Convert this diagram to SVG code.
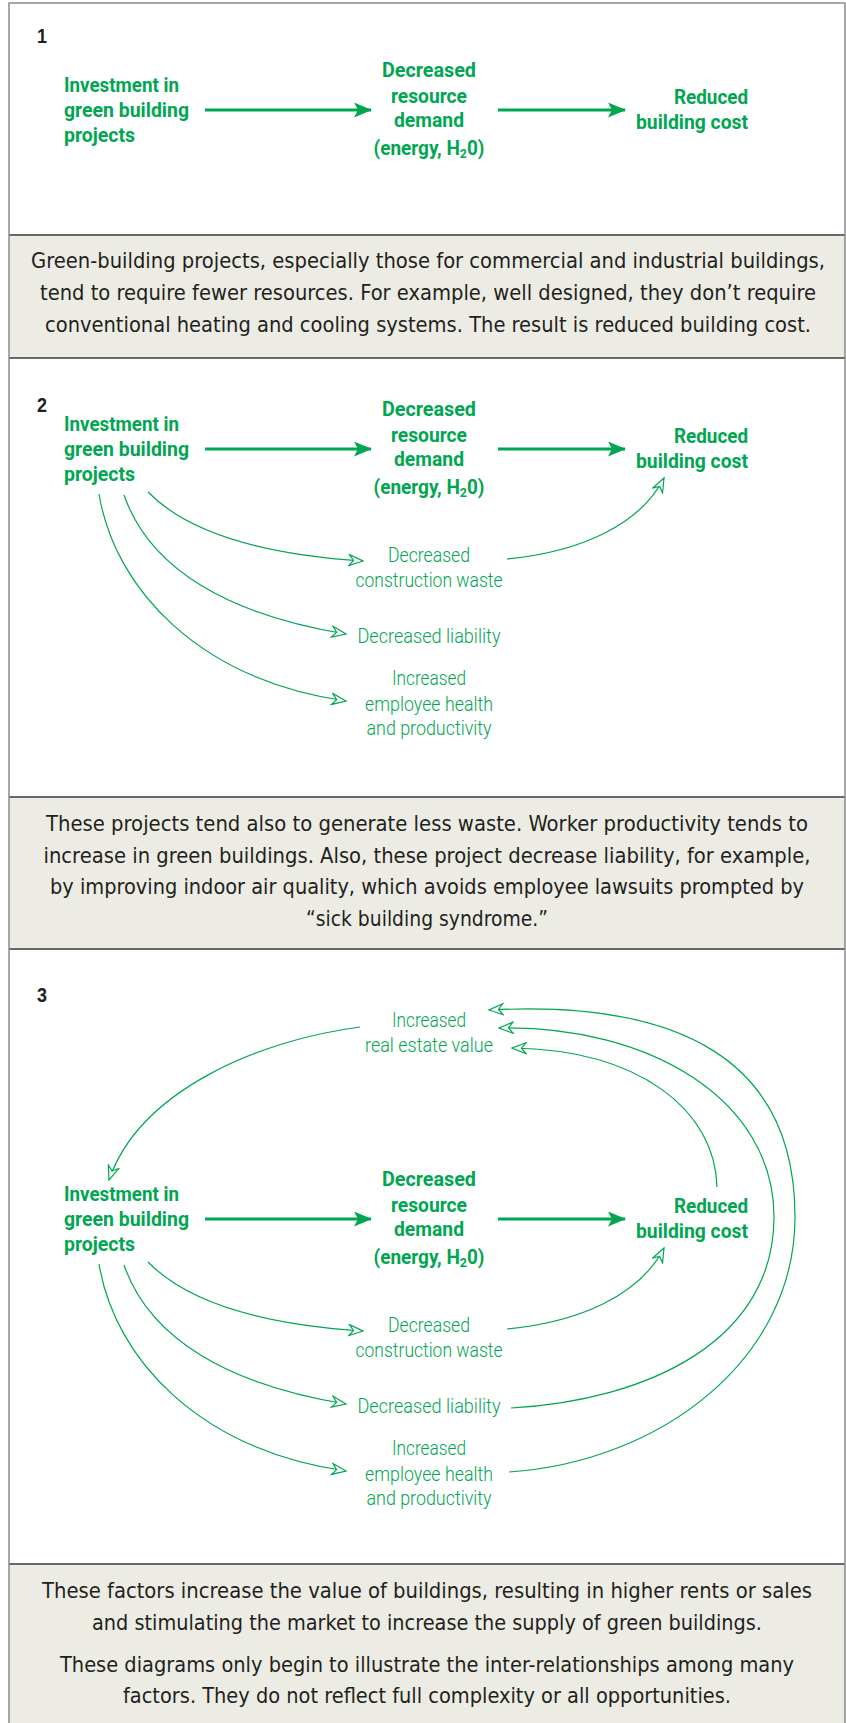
<svg xmlns="http://www.w3.org/2000/svg" width="846" height="1723" viewBox="0 0 846 1723">
<style>
.cap{font-family:"DejaVu Sans Condensed","Liberation Sans",sans-serif;font-size:21px;fill:#231f20;text-anchor:middle}
.num{font-family:"Liberation Sans",sans-serif;font-size:21px;font-weight:bold;fill:#231f20}
.b{font-family:Roboto,"Liberation Sans",sans-serif;font-size:20px;font-weight:bold;fill:#00a651}
.l{font-family:Roboto,"Liberation Sans",sans-serif;font-size:20px;font-weight:300;fill:#00a651;text-anchor:middle}
.m{text-anchor:middle}
.e{text-anchor:end}
.sub{font-size:13px;baseline-shift:-3px}
.thick{fill:none;stroke:#00a651;stroke-width:3.2;marker-end:url(#solid)}
.thin{fill:none;stroke:#00a651;stroke-width:1.2;marker-end:url(#hollow)}
.rule{stroke:#3a3a3a;stroke-width:1.5}
</style>
<defs>
<marker id="solid" markerUnits="userSpaceOnUse" markerWidth="20" markerHeight="16" refX="17" refY="7.5" orient="auto">
<path d="M0,0 L18,7.5 L0,15 L4,7.5 Z" fill="#00a651"/>
</marker>
<marker id="hollow" markerUnits="userSpaceOnUse" markerWidth="18" markerHeight="16" refX="15" refY="6.5" orient="auto">
<path d="M1,1 L15,6.5 L1,12 L5.5,6.5 Z" fill="#fff" stroke="#00a651" stroke-width="1.2" stroke-linejoin="miter"/>
</marker>
</defs>
<rect x="0" y="0" width="846" height="1723" fill="#fff"/>
<g id="bands">
<rect x="9" y="235" width="836" height="123" fill="#ecece4"/>
<rect x="9" y="797" width="836" height="152" fill="#ecece4"/>
<rect x="9" y="1564" width="836" height="159" fill="#ecece4"/>
<line class="rule" x1="9" y1="235" x2="845" y2="235"/>
<line class="rule" x1="9" y1="358" x2="845" y2="358"/>
<line class="rule" x1="9" y1="797" x2="845" y2="797"/>
<line class="rule" x1="9" y1="949" x2="845" y2="949"/>
<line class="rule" x1="9" y1="1564" x2="845" y2="1564"/>
<path d="M9,1723 V3 H845 V1723" fill="none" stroke="#8a8a8a" stroke-width="1.5"/>
</g>
<g id="captions">
<text class="cap" x="428" y="268" textLength="794" lengthAdjust="spacingAndGlyphs">Green-building projects, especially those for commercial and industrial buildings,</text>
<text class="cap" x="428" y="300" textLength="776" lengthAdjust="spacingAndGlyphs">tend to require fewer resources. For example, well designed, they don’t require</text>
<text class="cap" x="428" y="332" textLength="766" lengthAdjust="spacingAndGlyphs">conventional heating and cooling systems. The result is reduced building cost.</text>
<text class="cap" x="427" y="831" textLength="762" lengthAdjust="spacingAndGlyphs">These projects tend also to generate less waste. Worker productivity tends to</text>
<text class="cap" x="427" y="863" textLength="767" lengthAdjust="spacingAndGlyphs">increase in green buildings. Also, these project decrease liability, for example,</text>
<text class="cap" x="427" y="894" textLength="754" lengthAdjust="spacingAndGlyphs">by improving indoor air quality, which avoids employee lawsuits prompted by</text>
<text class="cap" x="427" y="926" textLength="242" lengthAdjust="spacingAndGlyphs">“sick building syndrome.”</text>
<text class="cap" x="427" y="1598" textLength="770" lengthAdjust="spacingAndGlyphs">These factors increase the value of buildings, resulting in higher rents or sales</text>
<text class="cap" x="427" y="1630" textLength="670" lengthAdjust="spacingAndGlyphs">and stimulating the market to increase the supply of green buildings.</text>
<text class="cap" x="427" y="1672" textLength="734" lengthAdjust="spacingAndGlyphs">These diagrams only begin to illustrate the inter-relationships among many</text>
<text class="cap" x="427" y="1703" textLength="608" lengthAdjust="spacingAndGlyphs">factors. They do not reflect full complexity or all opportunities.</text>
</g>
<g id="panel-numbers">
<text class="num" x="37" y="43" textLength="10" lengthAdjust="spacingAndGlyphs">1</text>
<text class="num" x="37" y="412" textLength="10" lengthAdjust="spacingAndGlyphs">2</text>
<text class="num" x="37" y="1002" textLength="10" lengthAdjust="spacingAndGlyphs">3</text>
</g>
<g id="p1-investment"><text class="b" x="64" y="92" textLength="115" lengthAdjust="spacingAndGlyphs">Investment in</text><text class="b" x="64" y="117" textLength="125" lengthAdjust="spacingAndGlyphs">green building</text><text class="b" x="64" y="142" textLength="71" lengthAdjust="spacingAndGlyphs">projects</text></g>
<g id="p1-demand"><text class="b m" x="429" y="77" textLength="94" lengthAdjust="spacingAndGlyphs">Decreased</text><text class="b m" x="429" y="103" textLength="76" lengthAdjust="spacingAndGlyphs">resource</text><text class="b m" x="429" y="127" textLength="70" lengthAdjust="spacingAndGlyphs">demand</text><text class="b m" x="429" y="155" textLength="111" lengthAdjust="spacingAndGlyphs">(energy, H<tspan class="sub">2</tspan>0)</text></g>
<g id="p1-cost"><text class="b e" x="748" y="104" textLength="74" lengthAdjust="spacingAndGlyphs">Reduced</text><text class="b e" x="748" y="129" textLength="112" lengthAdjust="spacingAndGlyphs">building cost</text></g>
<g id="p2-investment"><text class="b" x="64" y="431" textLength="115" lengthAdjust="spacingAndGlyphs">Investment in</text><text class="b" x="64" y="456" textLength="125" lengthAdjust="spacingAndGlyphs">green building</text><text class="b" x="64" y="481" textLength="71" lengthAdjust="spacingAndGlyphs">projects</text></g>
<g id="p2-demand"><text class="b m" x="429" y="416" textLength="94" lengthAdjust="spacingAndGlyphs">Decreased</text><text class="b m" x="429" y="442" textLength="76" lengthAdjust="spacingAndGlyphs">resource</text><text class="b m" x="429" y="466" textLength="70" lengthAdjust="spacingAndGlyphs">demand</text><text class="b m" x="429" y="494" textLength="111" lengthAdjust="spacingAndGlyphs">(energy, H<tspan class="sub">2</tspan>0)</text></g>
<g id="p2-cost"><text class="b e" x="748" y="443" textLength="74" lengthAdjust="spacingAndGlyphs">Reduced</text><text class="b e" x="748" y="468" textLength="112" lengthAdjust="spacingAndGlyphs">building cost</text></g>
<g id="p2-waste"><text class="l" x="429" y="562" textLength="82" lengthAdjust="spacingAndGlyphs">Decreased</text><text class="l" x="429" y="587" textLength="147" lengthAdjust="spacingAndGlyphs">construction waste</text></g>
<g id="p2-liability"><text class="l" x="429" y="643" textLength="143" lengthAdjust="spacingAndGlyphs">Decreased liability</text></g>
<g id="p2-health"><text class="l" x="429" y="685" textLength="74" lengthAdjust="spacingAndGlyphs">Increased</text><text class="l" x="429" y="711" textLength="128" lengthAdjust="spacingAndGlyphs">employee health</text><text class="l" x="429" y="735" textLength="125" lengthAdjust="spacingAndGlyphs">and productivity</text></g>
<g id="p3-value"><text class="l" x="429" y="1027" textLength="74" lengthAdjust="spacingAndGlyphs">Increased</text><text class="l" x="429" y="1052" textLength="128" lengthAdjust="spacingAndGlyphs">real estate value</text></g>
<g id="p3-investment"><text class="b" x="64" y="1201" textLength="115" lengthAdjust="spacingAndGlyphs">Investment in</text><text class="b" x="64" y="1226" textLength="125" lengthAdjust="spacingAndGlyphs">green building</text><text class="b" x="64" y="1251" textLength="71" lengthAdjust="spacingAndGlyphs">projects</text></g>
<g id="p3-demand"><text class="b m" x="429" y="1186" textLength="94" lengthAdjust="spacingAndGlyphs">Decreased</text><text class="b m" x="429" y="1212" textLength="76" lengthAdjust="spacingAndGlyphs">resource</text><text class="b m" x="429" y="1236" textLength="70" lengthAdjust="spacingAndGlyphs">demand</text><text class="b m" x="429" y="1264" textLength="111" lengthAdjust="spacingAndGlyphs">(energy, H<tspan class="sub">2</tspan>0)</text></g>
<g id="p3-cost"><text class="b e" x="748" y="1213" textLength="74" lengthAdjust="spacingAndGlyphs">Reduced</text><text class="b e" x="748" y="1238" textLength="112" lengthAdjust="spacingAndGlyphs">building cost</text></g>
<g id="p3-waste"><text class="l" x="429" y="1332" textLength="82" lengthAdjust="spacingAndGlyphs">Decreased</text><text class="l" x="429" y="1357" textLength="147" lengthAdjust="spacingAndGlyphs">construction waste</text></g>
<g id="p3-liability"><text class="l" x="429" y="1413" textLength="143" lengthAdjust="spacingAndGlyphs">Decreased liability</text></g>
<g id="p3-health"><text class="l" x="429" y="1455" textLength="74" lengthAdjust="spacingAndGlyphs">Increased</text><text class="l" x="429" y="1481" textLength="128" lengthAdjust="spacingAndGlyphs">employee health</text><text class="l" x="429" y="1505" textLength="125" lengthAdjust="spacingAndGlyphs">and productivity</text></g>
<g id="connectors">
<path class="thick" d="M205,110 H371"/>
<path class="thick" d="M498,110 H625"/>
<path class="thick" d="M205,449 H371"/>
<path class="thick" d="M498,449 H625"/>
<path class="thin" d="M148,492 C190,535 270,555 363,561"/>
<path class="thin" d="M124,495 C150,570 230,615 346,634"/>
<path class="thin" d="M99,494 C115,590 200,680 346,701"/>
<path class="thin" d="M507,559 C580,552 640,525 664,478"/>
<path class="thick" d="M205,1219 H371"/>
<path class="thick" d="M498,1219 H625"/>
<path class="thin" d="M148,1262 C190,1305 270,1325 363,1331"/>
<path class="thin" d="M124,1265 C150,1340 230,1385 346,1404"/>
<path class="thin" d="M99,1264 C115,1360 200,1450 346,1471"/>
<path class="thin" d="M507,1329 C580,1322 640,1295 664,1248"/>
<path class="thin" d="M360,1027 C260,1040 140,1090 109,1180"/>
<path class="thin" d="M717,1187 C715,1110 640,1050 512,1048"/>
<path class="thin" d="M511,1408 C650,1400 774,1340 774,1217 C774,1100 650,1025 499,1028"/>
<path class="thin" d="M509,1472 C660,1462 795,1360 795,1217 C795,1060 680,1000 489,1010"/>
</g>
</svg>
